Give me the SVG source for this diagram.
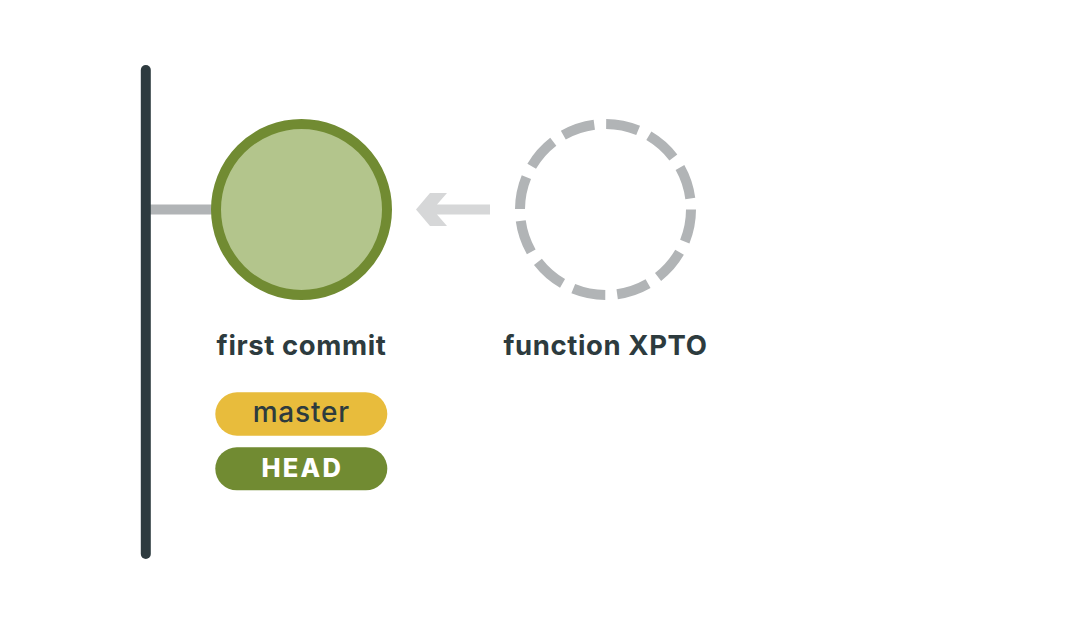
<svg xmlns="http://www.w3.org/2000/svg" width="1081" height="624" viewBox="0 0 1081 624">
  <style>
    .label { font-family: "Inter", "Open Sans", "Liberation Sans", sans-serif; font-weight: 700; font-size: 27.5px; letter-spacing: 0.6px; fill: #2d3b3e; text-anchor: middle; }
    .pill-text { font-family: "Inter", "Open Sans", "Liberation Sans", sans-serif; text-anchor: middle; }
  </style>
  <rect width="1081" height="624" fill="#ffffff"/>
  <g id="connectors">
    <line x1="150" y1="209.5" x2="215" y2="209.5" stroke="#b1b4b6" stroke-width="10"/>
    <polygon points="416,209.5 430,193 447,193 437,204.5 490,204.5 490,214.5 437,214.5 447,226 430,226" fill="#d6d7d8"/>
  </g>
  <g id="timeline">
    <line x1="145.8" y1="70" x2="145.8" y2="554" stroke="#2e3b3f" stroke-width="10" stroke-linecap="round"/>
  </g>
  <g id="first-commit">
    <circle cx="301.5" cy="209.5" r="85.5" fill="#b3c58c" stroke="#718b32" stroke-width="10"/>
    <text class="label" x="301.5" y="355">first commit</text>
  </g>
  <g id="function-xpto">
    <circle cx="605.5" cy="209.5" r="85.5" fill="none" stroke="#b1b4b6" stroke-width="10" stroke-dasharray="32.77 12"/>
    <text class="label" x="605.5" y="355">function XPTO</text>
  </g>
  <g id="master">
    <rect x="215.3" y="392.3" width="172" height="43.4" rx="21.7" fill="#e8bc3c"/>
    <text class="pill-text" x="301.3" y="421.7" fill="#2d3b3e" font-weight="500" font-size="28" letter-spacing="0.8">master</text>
  </g>
  <g id="head">
    <rect x="215.3" y="447.3" width="172" height="43" rx="21.5" fill="#718b32"/>
    <text class="pill-text" x="302.3" y="477" fill="#ffffff" font-weight="800" font-size="25.5" letter-spacing="2.2">HEAD</text>
  </g>
</svg>
